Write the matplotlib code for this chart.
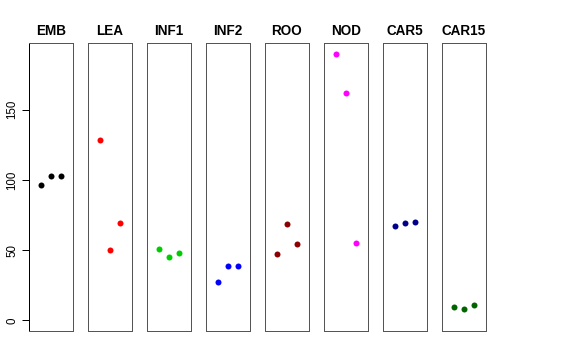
import matplotlib
matplotlib.use("Agg")
import matplotlib.pyplot as plt

plt.rcParams['font.family'] = ['Liberation Sans', 'DejaVu Sans']

tissues = ["EMB", "LEA", "INF1", "INF2", "ROO", "NOD", "CAR5", "CAR15"]
colors = ["#000000", "#FF0000", "#00CD00", "#0000FF", "#8B0000", "#FF00FF", "#00008B", "#006400"]
values = [
    [96.1, 102.5, 103.0],
    [128.4, 49.9, 69.3],
    [50.6, 45.4, 47.8],
    [27.6, 38.8, 38.8],
    [47.3, 68.6, 54.6],
    [189.8, 162.3, 55.1],
    [67.4, 69.3, 70.0],
    [9.8, 8.4, 10.8],
]
replicates = [1, 2, 3]
yticks = [0, 50, 100, 150]

W, H = 576, 360
fig = plt.figure(figsize=(W / 72, H / 72), dpi=72)

ymin, ymax = 0, 190
ext = 0.04 * (ymax - ymin)
left0, step, width = 29, 59, 44
top, bottom = 43, 331

for i, (name, col, vals) in enumerate(zip(tissues, colors, values)):
    x0 = left0 + i * step
    ax = fig.add_axes([x0 / W, (H - bottom) / H, width / W, (bottom - top) / H])
    ax.plot(replicates, vals, 'o', color=col, markersize=6, markeredgewidth=0)
    ax.set_xlim(0 - 0.16, 4 + 0.16)
    ax.set_ylim(ymin - ext, ymax + ext)
    ax.set_xticks([])
    for s in ax.spines.values():
        s.set_color('#555555')
        s.set_linewidth(1)
    ax.set_title(name, fontsize=13.5, fontweight='bold', pad=8)
    if i == 0:
        ax.set_yticks(yticks)
        ax.tick_params(axis='y', length=7, width=1, pad=4, labelsize=11.5)
        for lab in ax.get_yticklabels():
            lab.set_rotation(90)
            lab.set_va('center')
        ax.spines['left'].set_color('black')
    else:
        ax.set_yticks([])

fig.savefig("out.png", dpi=72)
